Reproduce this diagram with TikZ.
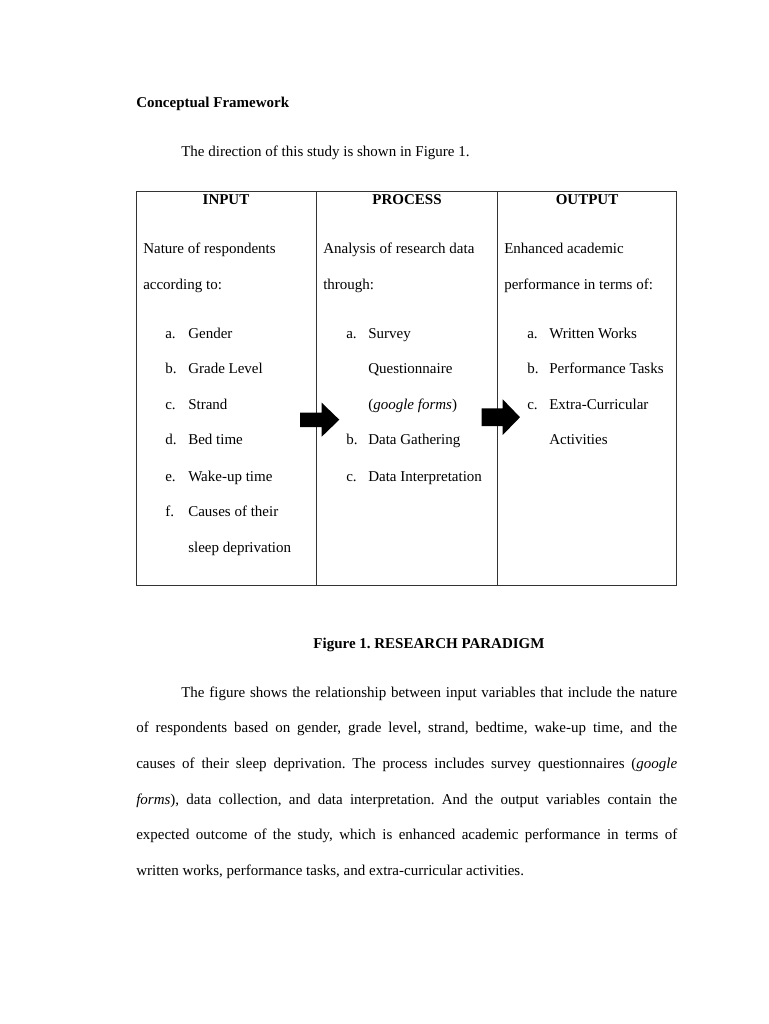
\documentclass[tikz,border=0pt]{standalone}
\usepackage{fontspec}
\setmainfont{Liberation Serif}
\frenchspacing
\newcommand{\fullline}[1]{\makebox[405.75pt][s]{#1}}

\begin{document}
\begin{tikzpicture}[x=0.75pt, y=-0.75pt,
	txt/.style={anchor=base west, inner sep=0pt, font=\fontsize{11.25}{13}\selectfont},
	head/.style={anchor=base, inner sep=0pt, font=\fontsize{11.25}{13}\selectfont\bfseries},
	boxline/.style={draw=black!80, line width=0.75pt},
	blockarrow/.style={fill=black, draw=none}]

		\useasboundingbox (0, 0) rectangle (768, 1024);

		\node[txt, font=\fontsize{11.25}{13}\selectfont\bfseries] (title) at(136, 107.5){Conceptual Framework};
		\node[txt] (intro) at(181, 156){The direction of this study is shown in Figure 1.};

		% the table
		\draw[boxline](136, 191) rectangle (676.7, 585.7);
			\draw[boxline](316.3, 191) to (316.3, 585.7);
			\draw[boxline](497.7, 191) to (497.7, 585.7);

		\node[head] (input) at(226, 204){INPUT};
		\node[head] (process) at(407, 204){PROCESS};
		\node[head] (output) at(587, 204){OUTPUT};

		% input column
		\node[txt] (inA) at(143, 253){Nature of respondents};
		\node[txt] (inB) at(143, 289){according to:};
		\node[txt] (inLa) at(165, 338){a.};
			\node[txt] (inIa) at(188, 338){Gender};
		\node[txt] (inLb) at(165, 373){b.};
			\node[txt] (inIb) at(188, 373){Grade Level};
		\node[txt] (inLc) at(165, 409){c.};
			\node[txt] (inIc) at(188, 409){Strand};
		\node[txt] (inLd) at(165, 444){d.};
			\node[txt] (inId) at(188, 444){Bed time};
		\node[txt] (inLe) at(165, 481){e.};
			\node[txt] (inIe) at(188, 481){Wake-up time};
		\node[txt] (inLf) at(165, 516){f.};
			\node[txt] (inIf) at(188, 516){Causes of their};
			\node[txt] (inIg) at(188, 552){sleep deprivation};

		% process column
		\node[txt] (prA) at(323, 253){Analysis of research data};
		\node[txt] (prB) at(323, 289){through:};
		\node[txt] (prLa) at(346, 338){a.};
			\node[txt] (prIa) at(368, 338){Survey};
			\node[txt] (prIb) at(368, 373){Questionnaire};
			\node[txt] (prIc) at(368, 409){(\textit{google forms})};
		\node[txt] (prLb) at(346, 444){b.};
			\node[txt] (prId) at(368, 444){Data Gathering};
		\node[txt] (prLc) at(346, 481){c.};
			\node[txt] (prIe) at(368, 481){Data Interpretation};

		% output column
		\node[txt] (ouA) at(504, 253){Enhanced academic};
		\node[txt] (ouB) at(504, 289){performance in terms of:};
		\node[txt] (ouLa) at(527, 338){a.};
			\node[txt] (ouIa) at(549, 338){Written Works};
		\node[txt] (ouLb) at(527, 373){b.};
			\node[txt] (ouIb) at(549, 373){Performance Tasks};
		\node[txt] (ouLc) at(527, 409){c.};
			\node[txt] (ouIc) at(549, 409){Extra-Curricular};
			\node[txt] (ouId) at(549, 444){Activities};

		% block arrows
		\fill[blockarrow](300, 412.7) -- (321.7, 412.7) -- (321.7, 402.7) -- (339.3, 419.7)
			-- (321.7, 436.7) -- (321.7, 427) -- (300, 427) -- cycle;
		\fill[blockarrow](481.7, 408.3) -- (502.7, 408.3) -- (502.7, 399.3) -- (520, 417.2)
			-- (502.7, 435) -- (502.7, 426) -- (481.7, 426) -- cycle;

		\node[head] (caption) at(429, 648){Figure 1. RESEARCH PARADIGM};

		% paragraph
		\node[txt] (par1) at(181, 697){\makebox[372pt][s]{The figure shows the relationship between input variables that include the nature}};
		\node[txt] (par2) at(136, 732){\fullline{of respondents based on gender, grade level, strand, bedtime, wake-up time, and the}};
		\node[txt] (par3) at(136, 768){\fullline{causes of their sleep deprivation. The process includes survey questionnaires (\textit{google}}};
		\node[txt] (par4) at(136, 804){\fullline{\textit{forms}), data collection, and data interpretation. And the output variables contain the}};
		\node[txt] (par5) at(136, 839){\fullline{expected outcome of the study, which is enhanced academic performance in terms of}};
		\node[txt] (par6) at(136, 875){written works, performance tasks, and extra-curricular activities.};

	\end{tikzpicture}
\end{document}
